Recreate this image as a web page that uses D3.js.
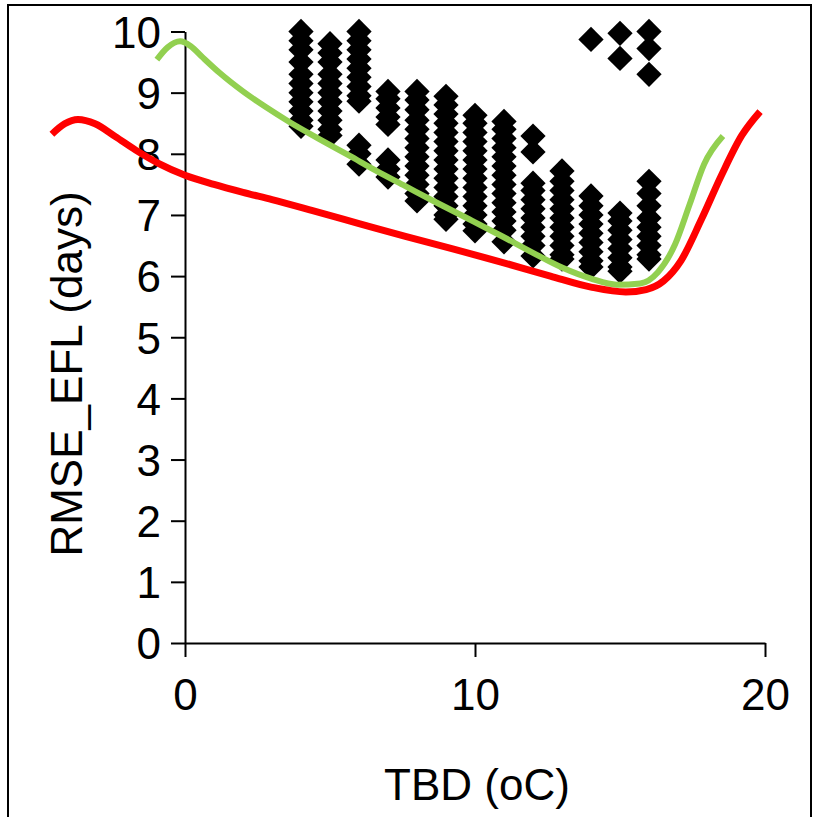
<!DOCTYPE html>
<html>
<head>
<meta charset="utf-8">
<script src="https://cdn.jsdelivr.net/npm/d3@7"></script>
<style>
  html, body { margin: 0; padding: 0; background: #fff; }
  svg { display: block; }
  text { font-family: "Liberation Sans", Arial, sans-serif; fill: #000; }
</style>
</head>
<body>
<svg id="chart" width="813" height="817"></svg>
<script>
// ---- data ----
const xTicks = [0, 10, 20];
const yTicks = [0, 1, 2, 3, 4, 5, 6, 7, 8, 9, 10];
const xLabel = "TBD (oC)";
const yLabel = "RMSE_EFL (days)";

// scatter: TBD value -> RMSE values
const scatterX = [4, 5, 6, 7, 8, 9, 10, 11, 12, 13, 14, 15, 16];
const scatterY = [
  [10.0, 9.85, 9.7, 9.5, 9.3, 9.15, 9.0, 8.85, 8.7, 8.55, 8.45],
  [9.8, 9.65, 9.5, 9.3, 9.15, 9.0, 8.85, 8.7, 8.55, 8.4, 8.3],
  [10.0, 9.85, 9.7, 9.55, 9.4, 9.25, 9.1, 8.95, 8.86, 8.14, 8.0, 7.83],
  [9.02, 8.9, 8.75, 8.6, 8.48, 7.9, 7.75, 7.62],
  [9.02, 8.88, 8.72, 8.55, 8.4, 8.25, 8.1, 7.95, 7.8, 7.65, 7.5, 7.35, 7.23],
  [8.94, 8.8, 8.65, 8.5, 8.35, 8.2, 8.05, 7.9, 7.75, 7.6, 7.45, 7.3, 7.15, 7.0, 6.93],
  [8.63, 8.5, 8.35, 8.2, 8.05, 7.9, 7.75, 7.6, 7.45, 7.3, 7.15, 7.0, 6.85, 6.74],
  [8.53, 8.4, 8.25, 8.1, 7.95, 7.8, 7.65, 7.5, 7.35, 7.2, 7.05, 6.9, 6.75, 6.56],
  [8.29, 8.03, 7.52, 7.4, 7.25, 7.1, 6.95, 6.8, 6.65, 6.5, 6.33],
  [7.72, 7.55, 7.4, 7.25, 7.1, 6.95, 6.8, 6.65, 6.5, 6.35, 6.28],
  [9.87, 7.31, 7.15, 7.0, 6.85, 6.7, 6.55, 6.4, 6.25, 6.15],
  [9.97, 9.56, 7.03, 6.9, 6.75, 6.6, 6.45, 6.3, 6.15, 6.08],
  [10.0, 9.72, 9.3, 7.55, 7.35, 7.15, 6.95, 6.8, 6.65, 6.5, 6.35, 6.28]
];

// green fitted curve
const greenX = [-0.97, -0.6, -0.17, 0.2, 0.6, 1.2, 2.0, 2.8, 3.6, 4.6, 5.7, 6.6, 7.6, 8.6, 9.8, 10.9, 12.0, 13.0, 14.0, 14.9, 15.7, 16.3, 16.9, 17.4, 17.9, 18.55];
const greenY = [9.54, 9.74, 9.84, 9.76, 9.58, 9.32, 9.02, 8.76, 8.52, 8.25, 7.96, 7.72, 7.47, 7.22, 6.93, 6.66, 6.38, 6.14, 5.96, 5.86, 5.88, 6.06, 6.52, 7.17, 7.83, 8.29];

// red fitted curve
const redX = [-4.59, -4.15, -3.69, -3.1, -2.4, -1.7, -0.9, 0, 1.0, 2.0, 3.0, 4.4, 6.0, 7.6, 9.2, 10.9, 12.6, 14.0, 15.2, 15.9, 16.5, 17.1, 17.8, 18.5, 19.2, 19.83];
const redY = [8.32, 8.49, 8.56, 8.49, 8.28, 8.06, 7.84, 7.65, 7.50, 7.37, 7.25, 7.07, 6.86, 6.65, 6.45, 6.23, 6.00, 5.82, 5.74, 5.78, 5.92, 6.25, 6.92, 7.65, 8.30, 8.69];

// ---- drawing ----
const svg = d3.select("#chart");
const x = d3.scaleLinear().domain([0, 20]).range([185, 765]);
const y = d3.scaleLinear().domain([0, 10]).range([643, 31.5]);

// outer frame
svg.append("rect").attr("x", 8).attr("y", 5).attr("width", 803).attr("height", 830)
  .attr("fill", "none").attr("stroke", "#000").attr("stroke-width", 2);

// axes
const fs = 44;
const yAxis = svg.append("g").attr("transform", `translate(${x(0)},0)`)
  .call(d3.axisLeft(y).tickValues(yTicks).tickSize(14).tickSizeOuter(0).tickPadding(10).tickFormat(d3.format("d")));
const xAxis = svg.append("g").attr("transform", `translate(0,${y(0)})`)
  .call(d3.axisBottom(x).tickValues(xTicks).tickSize(14).tickSizeOuter(0).tickPadding(22).tickFormat(d3.format("d")));
[yAxis, xAxis].forEach(g => {
  g.select(".domain").attr("stroke", "#000").attr("stroke-width", 2);
  g.selectAll(".tick line").attr("stroke", "#000").attr("stroke-width", 2);
  g.selectAll(".tick text").attr("font-size", fs).attr("font-family", "Liberation Sans, Arial, sans-serif").attr("fill", "#000");
});
yAxis.selectAll(".tick text").attr("dy", "0.36em");

// axis titles
svg.append("text").attr("x", 477).attr("y", 800).attr("text-anchor", "middle")
  .attr("font-size", fs).text(xLabel);
svg.append("text").attr("transform", `translate(82,374) rotate(-90)`).attr("text-anchor", "middle")
  .attr("font-size", fs).text(yLabel);

// scatter diamonds
const pts = [];
scatterX.forEach((xv, i) => scatterY[i].forEach(yv => pts.push([xv, yv])));
const diamond = d3.symbol().type(d3.symbolSquare).size(320);
svg.append("g").selectAll("path").data(pts).enter().append("path")
  .attr("d", diamond)
  .attr("transform", d => `translate(${x(d[0])},${y(d[1])}) rotate(45)`)
  .attr("fill", "#000");

// curves
const line = d3.line().x(d => x(d[0])).y(d => y(d[1])).curve(d3.curveMonotoneX);
svg.append("path").datum(greenX.map((v, i) => [v, greenY[i]]))
  .attr("d", line).attr("fill", "none").attr("stroke", "#92D050").attr("stroke-width", 6);
svg.append("path").datum(redX.map((v, i) => [v, redY[i]]))
  .attr("d", line).attr("fill", "none").attr("stroke", "#FF0000").attr("stroke-width", 7);
</script>
</body>
</html>
